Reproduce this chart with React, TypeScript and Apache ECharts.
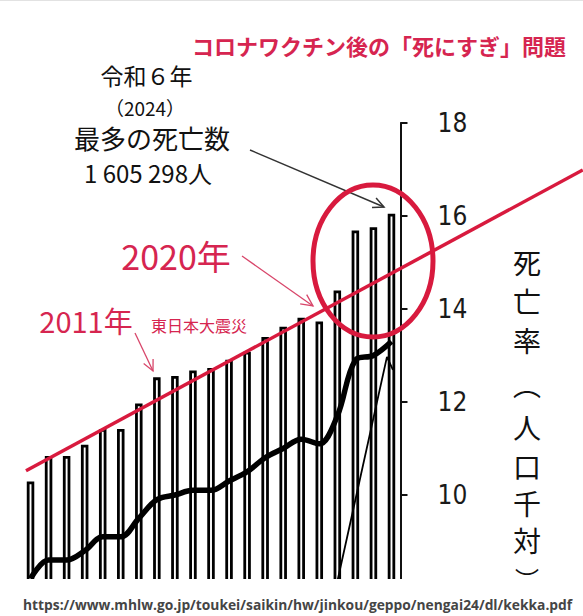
import React, { useEffect, useRef } from "react";
import * as echarts from "echarts";

// ---- data ----
const years = [2004, 2005, 2006, 2007, 2008, 2009, 2010, 2011, 2012, 2013, 2014, 2015, 2016, 2017, 2018, 2019, 2020, 2021, 2022, 2023, 2024];
// deaths (unit: 100,000 persons)
const deaths = [10.29, 10.84, 10.84, 11.08, 11.42, 11.42, 11.97, 12.53, 12.56, 12.68, 12.73, 12.91, 13.08, 13.40, 13.62, 13.81, 13.73, 14.40, 15.69, 15.76, 16.05];
// death rate (per 1,000 population)
const deathRate = [8.2, 8.6, 8.6, 8.8, 9.1, 9.1, 9.5, 9.9, 10.0, 10.1, 10.1, 10.3, 10.5, 10.8, 11.0, 11.2, 11.1, 11.7, 12.9, 13.0, 13.3];
// thin line (lower right)
const thinX = [2020.92, 2023.75, 2024.08];
const thinY = [8.0, 12.97, 12.69];
// red trend line end points
const trendX = [2003.75, 2034.6];
const trendY = [10.52, 16.99];
const yTicks = { min: 8, max: 18, interval: 2 };

const RED = "#d81a3e";
const RED_TEXT = "#d62550";
const JP = "'Noto Sans CJK JP', 'Noto Sans CJK SC', sans-serif";

function arrow(x1: number, y1: number, x2: number, y2: number, color: string, w: number, head: number) {
  const ang = Math.atan2(y2 - y1, x2 - x1);
  const a1 = ang + Math.PI - 0.45;
  const a2 = ang + Math.PI + 0.45;
  return {
    type: "group",
    z: 50,
    children: [
      { type: "line", shape: { x1, y1, x2, y2 }, style: { stroke: color, lineWidth: w } },
      {
        type: "polyline",
        shape: {
          points: [
            [x2 + head * Math.cos(a1), y2 + head * Math.sin(a1)],
            [x2, y2],
            [x2 + head * Math.cos(a2), y2 + head * Math.sin(a2)],
          ],
        },
        style: { stroke: color, lineWidth: w, fill: "none" },
      },
    ],
  };
}

function txt(text: string, x: number, y: number, size: number, color: string, weight = "normal", align = "center", family = JP) {
  return {
    type: "text",
    x,
    y,
    z: 60,
    style: {
      text,
      fill: color,
      fontSize: size,
      fontWeight: weight,
      fontFamily: family,
      align,
      verticalAlign: "middle",
      lineHeight: size,
    },
  };
}

export default function App() {
  const ref = useRef<HTMLDivElement>(null);
  useEffect(() => {
    if (!ref.current) return;
    const chart = echarts.init(ref.current, null, { renderer: "svg" });
    const vChars = [
      ["死", 262, 28],
      ["亡", 301, 28],
      ["率", 340, 28],
      ["︵", 384, 28],
      ["人", 427, 28],
      ["口", 466, 28],
      ["千", 503, 28],
      ["対", 540, 28],
      ["︶", 578, 24],
    ] as [string, number, number][];
    chart.setOption({
      animation: false,
      backgroundColor: "#ffffff",
      grid: { left: 21.5, right: 182.5, top: 123, bottom: 28, containLabel: false },
      xAxis: { type: "value", min: 2003.5, max: 2024.5, show: false },
      yAxis: {
        type: "value",
        position: "right",
        min: yTicks.min,
        max: yTicks.max,
        interval: yTicks.interval,
        splitLine: { show: false },
        axisLine: { show: true, lineStyle: { color: "#111", width: 2 } },
        axisTick: { show: true, inside: false, length: 7, lineStyle: { color: "#111", width: 2 } },
        axisLabel: {
          margin: 37,
          fontSize: 26,
          color: "#1a1a1a",
          fontFamily: "'Liberation Sans Narrow', 'DejaVu Sans Condensed', 'Roboto Condensed', sans-serif",
          formatter: (v: number) => (v === yTicks.min ? "" : String(v)),
        },
      },
      series: [
        {
          type: "bar",
          data: years.map((y, i) => [y, deaths[i]]),
          barWidth: 7.5,
          itemStyle: { color: "#ffffff", borderColor: "#000", borderWidth: 2.8 },
          z: 2,
        },
        {
          type: "line",
          data: years.map((y, i) => [y, deathRate[i]]),
          smooth: 0.35,
          symbol: "none",
          lineStyle: { color: "#000", width: 5.5 },
          z: 3,
        },
        {
          type: "line",
          data: thinX.map((x, i) => [x, thinY[i]]),
          symbol: "none",
          lineStyle: { color: "#000", width: 1.8 },
          z: 3,
        },
      ],
    });
    const p1 = chart.convertToPixel({ gridIndex: 0 }, [trendX[0], trendY[0]]) as number[];
    const p2 = chart.convertToPixel({ gridIndex: 0 }, [trendX[1], trendY[1]]) as number[];
    const vTexts = vChars.map(([c, y, s], i) => {
      const t = txt(c, 527, y, s, "#111");
      return i === vChars.length - 1 ? { ...t, z: 85 } : t;
    });
    chart.setOption({
      graphic: [
        {
          type: "line",
          z: 30,
          shape: { x1: p1[0], y1: p1[1], x2: p2[0], y2: p2[1] },
          style: { stroke: RED, lineWidth: 3.5 },
        },
        {
          type: "ellipse",
          z: 40,
          shape: { cx: 373, cy: 261, rx: 60, ry: 76 },
          style: { fill: "none", stroke: RED, lineWidth: 5 },
        },
        arrow(250, 150, 384, 207, "#333", 1.5, 12),
        arrow(242, 256, 313, 306, "#d8466a", 1.3, 13),
        arrow(135, 333, 153, 371, "#d8466a", 1.3, 12),
        txt("コロナワクチン後の「死にすぎ」問題", 379, 45, 22, RED_TEXT, "bold"),
        txt("令和６年", 146.5, 75, 23, "#111"),
        txt("（2024）", 145, 107, 19, "#111"),
        txt("最多の死亡数", 152, 137, 26, "#111"),
        txt("1 605 298人", 148, 172, 24, "#111"),
        txt("2020年", 176, 255, 34, RED_TEXT),
        txt("2011年", 86, 320, 29, RED_TEXT),
        txt("東日本大震災", 199, 325, 16, RED_TEXT),
        ...vTexts,
        {
          type: "rect",
          z: 80,
          shape: { x: 0, y: 579, width: 583, height: 37 },
          style: { fill: "#ffffff" },
        },
        {
          type: "rect",
          z: 80,
          shape: { x: 0, y: 0, width: 583, height: 1 },
          style: { fill: "#e2e2e2" },
        },
        {
          ...txt(
            "https://www.mhlw.go.jp/toukei/saikin/hw/jinkou/geppo/nengai24/dl/kekka.pdf",
            23,
            604,
            13.8,
            "#454545",
            "bold",
            "left",
            "'Open Sans', 'DejaVu Sans', sans-serif"
          ),
          z: 90,
        },
      ],
    });
    return () => chart.dispose();
  }, []);
  return (
    <div
      ref={ref}
      style={{ position: "fixed", left: 0, top: 0, width: 583, height: 616, background: "#fff" }}
    />
  );
}
